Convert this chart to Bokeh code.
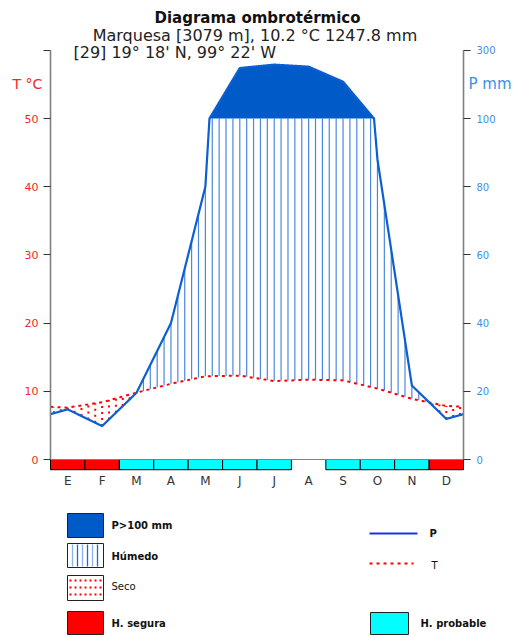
import numpy as np
from bokeh.plotting import figure
from bokeh.models import LinearAxis, FixedTicker, Label
from bokeh.embed import file_html
from bokeh.resources import INLINE

# ---------------- data ----------------
months = ["E", "F", "M", "A", "M", "J", "J", "A", "S", "O", "N", "D"]
temp_c = [7.6, 8.4, 9.8, 11.1, 12.2, 12.3, 11.5, 11.7, 11.6, 10.4, 8.9, 7.85]
precip_mm = [14.7, 9.8, 19.6, 40.0, 80.0, 248.0, 258.0, 252.0, 208.0, 88.0, 21.7, 11.9]
frost = ["segura", "segura", "probable", "probable", "probable", "probable",
         "probable", "", "probable", "probable", "probable", "segura"]
t_ticks = [0, 10, 20, 30, 40, 50, 60]
t_tick_labels = ["0", "10", "20", "30", "40", "50", ""]
p_tick_labels = ["0", "20", "40", "60", "80", "100", "300"]
title_main = "Diagrama ombrotérmico"
title_station = "Marquesa [3079 m], 10.2 °C 1247.8  mm"
title_coords = "[29] 19° 18' N, 99° 22' W"

# ---------------- styles ----------------
FONT = "DejaVu Sans"
RED = "#ff0000"
LBL_RED = "#f02828"
LBL_BLUE = "#3d8fe8"
P_BLUE = "#0c5fd0"
FILL_BLUE = "#005bc8"
HATCH_BLUE = "#4a88e0"
CYAN = "#00ffff"
AX_GREY = "#808080"

W, H = 518, 637
X0, X1 = 50, 463       # pixel columns of month 0 and month 12
Y0 = 459               # pixel row of 0 degC
PX_X = (X1 - X0) / 12.0
PX_Y = 341 / 50.0


def ptrans(p):
    p = np.asarray(p, dtype=float)
    return np.where(p <= 100, p / 2.0, 50 + (p - 100) / 20.0)


T = np.array(temp_c)
P = np.array(precip_mm)
xm = np.arange(12) + 0.5
xe = np.concatenate([[0.0], xm, [12.0]])
Te = np.concatenate([[(T[-1] + T[0]) / 2], T, [(T[-1] + T[0]) / 2]])
Pe = np.concatenate([[(P[-1] + P[0]) / 2], P, [(P[-1] + P[0]) / 2]])

xd = np.linspace(0, 12, 2401)
Pd = ptrans(np.interp(xd, xe, Pe))

xh = 0.1 + 0.2 * np.arange(60)
Th = np.interp(xh, xe, Te)
Ph = ptrans(np.interp(xh, xe, Pe))
wet = Ph > Th
dry = Th > Ph

# ---------------- figure (frame = whole canvas) ----------------
p = figure(width=W, height=H,
           x_range=(-X0 / PX_X, 12 + (W - X1) / PX_X),
           y_range=(-(H - Y0) / PX_Y, Y0 / PX_Y),
           output_backend="svg", toolbar_location=None, min_border=0,
           x_axis_location=None, y_axis_location=None)
p.outline_line_color = None
p.grid.visible = False
p.background_fill_color = "white"
p.border_fill_color = "white"

# wet hatch
p.segment(x0=xh[wet], y0=Th[wet], x1=xh[wet], y1=np.minimum(Ph[wet], 50),
          line_color=HATCH_BLUE, line_width=1.2)
# dry dots
p.segment(x0=xh[dry], y0=Ph[dry], x1=xh[dry], y1=Th[dry],
          line_color=RED, line_width=2, line_dash="2 4")
# P > 100 fill
p.varea(x=xd, y1=50, y2=np.maximum(Pd, 50), fill_color=FILL_BLUE)

# frost bar
left = [i for i, f in enumerate(frost) if f]
cols = [RED if f == "segura" else CYAN for f in frost if f]
p.quad(left=left, right=[l + 1 for l in left], top=0, bottom=-1.5,
       fill_color=cols, line_color="black", line_width=1)

# curves
p.line(xe, Te, line_color=RED, line_width=2, line_dash="3 4")
p.line(xd, Pd, line_color=P_BLUE, line_width=2.2, line_join="round")


def style_y(ax, color, size, standoff):
    ax.bounds = (0, 60)
    ax.axis_line_color = AX_GREY
    ax.axis_line_width = 1.6
    ax.major_tick_line_color = "#333333"
    ax.major_tick_out = 7
    ax.major_tick_in = 0
    ax.minor_tick_line_color = None
    ax.major_label_text_color = color
    ax.major_label_text_font = FONT
    ax.major_label_text_font_size = size
    ax.major_label_standoff = standoff


la = LinearAxis(fixed_location=0, ticker=FixedTicker(ticks=t_ticks),
                major_label_overrides=dict(zip(t_ticks, t_tick_labels)))
style_y(la, LBL_RED, "11px", 5)
p.add_layout(la, "left")

ra = LinearAxis(fixed_location=12, ticker=FixedTicker(ticks=t_ticks),
                major_label_overrides=dict(zip(t_ticks, p_tick_labels)))
style_y(ra, LBL_BLUE, "10px", 6)
p.add_layout(ra, "right")

ba = LinearAxis(fixed_location=0, bounds=(0, 12), ticker=FixedTicker(ticks=[]))
ba.axis_line_color = AX_GREY
ba.axis_line_width = 1
ba.major_tick_line_color = None
ba.minor_tick_line_color = None
ba.major_label_text_font_size = "0px"
p.add_layout(ba, "below")

xa = LinearAxis(fixed_location=-1.2, ticker=FixedTicker(ticks=list(xm)),
                major_label_overrides={float(x): m for x, m in zip(xm, months)})
xa.axis_line_color = None
xa.major_tick_line_color = None
xa.minor_tick_line_color = None
xa.major_label_text_font = FONT
xa.major_label_text_font_size = "12px"
xa.major_label_text_color = "#333333"
xa.major_label_standoff = 0
p.add_layout(xa, "below")


def dx(sx):
    return (sx - X0) / PX_X


def dy(sy):
    return (Y0 - sy) / PX_Y


def label(sx, sy, t, size="14px", bold=False, align="left", color="#222222"):
    p.add_layout(Label(x=dx(sx), y=dy(sy), text=t, text_align=align,
                       text_baseline="middle", text_font=FONT,
                       text_font_size=size,
                       text_font_style="bold" if bold else "normal",
                       text_color=color))


label(257, 17, title_main, size="15px", bold=True, align="center", color="#111111")
label(257, 35, title_station, size="16px", align="center")
label(73, 52, title_coords, size="16px")
label(12, 83, "T °C", color=LBL_RED)
label(468, 83, "P mm", size="15px", color=LBL_BLUE)

# ---------------- legend ----------------


def box(x0, y0, x1, y1, fill):
    p.quad(left=dx(x0), right=dx(x1), top=dy(y0), bottom=dy(y1),
           fill_color=fill, line_color="#222222", line_width=1)


box(67, 513, 103, 537, FILL_BLUE)
label(111, 525, "P>100 mm", size="10px", bold=True, color="#111111")

box(67, 543, 103, 567, "white")
hx = np.arange(72, 102, 5)
p.segment(x0=[dx(v) for v in hx], y0=dy(544), x1=[dx(v) for v in hx], y1=dy(566),
          line_color=["#8ab4ee" if i % 2 == 0 else "#1f66d6" for i in range(len(hx))],
          line_width=1.3)
label(111, 556, "Húmedo", size="10px", bold=True, color="#111111")

box(67, 575, 103, 600, "white")
ry = [580, 587, 594]
p.segment(x0=dx(69), y0=[dy(v) for v in ry], x1=dx(102), y1=[dy(v) for v in ry],
          line_color=RED, line_width=2, line_dash="2 3")
label(111, 586, "Seco", size="10px", color="#111111")

box(67, 611, 103, 634, RED)
label(111, 623, "H. segura", size="10px", bold=True, color="#111111")

p.line([dx(369), dx(417)], [dy(533), dy(533)], line_color="#1a35e0", line_width=2)
label(429, 533, "P", size="10px", bold=True, color="#111111")
p.line([dx(369), dx(413)], [dy(563), dy(563)], line_color=RED, line_width=2,
       line_dash="3 4")
label(431, 565, "T", size="10px", color="#111111")

box(370, 612, 408, 634, CYAN)
label(420, 623, "H. probable", size="10px", bold=True, color="#111111")

open("out.html", "w").write(file_html(p, INLINE))
